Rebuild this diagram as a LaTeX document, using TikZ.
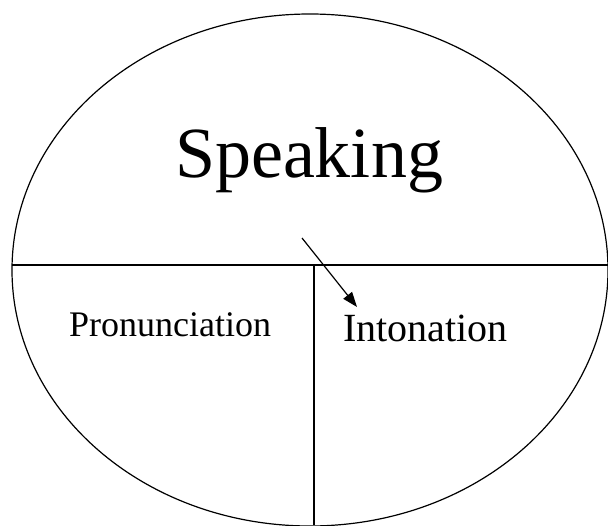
\documentclass[tikz,border=0pt]{standalone}
\usepackage{fontspec}
\setmainfont{Liberation Serif}
\usetikzlibrary{arrows.meta}
\begin{document}
\begin{tikzpicture}[x=1pt,y=-1pt,
  line/.style={line width=1.2pt,black},
  lbl/.style={inner sep=0pt,text=black}]
\useasboundingbox (0,0) rectangle (608,525);
\fill[white] (0,0) rectangle (608,525);
\draw[line] (310,270) ellipse [x radius=298, y radius=256];
\coordinate (hl) at (12,265);
\coordinate (hr) at (608,265);
\coordinate (vt) at (314,265);
\coordinate (vb) at (314,525);
\draw[line] (hl) -- (hr);
\draw[line] (vt) -- (vb);
\node[lbl,anchor=base] (speak) at (309,177) {\fontsize{72}{80}\selectfont Speaking};
\node[lbl,anchor=base west] (pron) at (69,336) {\fontsize{36}{40}\selectfont Pronunciation};
\node[lbl,anchor=base west] (inton) at (343,341) {\fontsize{40}{46}\selectfont Intonation};
\coordinate (as) at (302,238);
\coordinate (ae) at (357,307);
\draw[line,-{Triangle[length=15pt,width=11pt]}] (as) -- (ae);
\end{tikzpicture}
\end{document}
